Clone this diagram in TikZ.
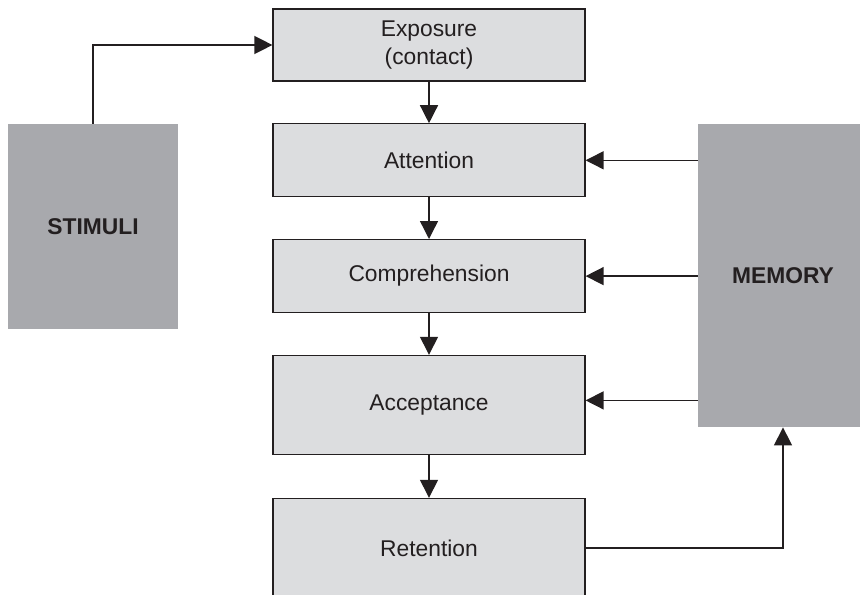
\documentclass[tikz,border=0pt]{standalone}
\usepackage{fontspec}
\setmainfont{Liberation Sans}
\usepackage{xcolor}
\usepackage{tikz}
\usetikzlibrary{positioning,calc,arrows.meta}

\definecolor{stagegray}{HTML}{DCDDDF}
\definecolor{sidegray}{HTML}{A8A9AD}
\definecolor{inkgray}{HTML}{231F20}

\begin{document}
\begin{tikzpicture}[
    x=1pt, y=1pt,
    font=\fontsize{11.4}{14}\selectfont,
    node distance=20.8pt,
    stage/.style={draw=inkgray, line width=0.6pt, fill=stagegray, text=inkgray,
        minimum width=156pt, minimum height=36.5pt, inner sep=0pt, align=center},
    side/.style={fill=sidegray, text=inkgray, font=\fontsize{11.4}{14}\selectfont\bfseries,
        minimum width=85pt, inner sep=0pt},
    flow/.style={draw=inkgray, line width=0.7pt, -{Triangle[length=9pt,width=9pt]}}
]
    \useasboundingbox (0,0) rectangle (430,-297);

    % Side blocks
    \node[side, minimum height=102.5pt] (stimuli) at (46.5,-113.25) {STIMULI};
    \node[side, minimum height=151.5pt] (memory) at (391.5,-137.75) {MEMORY};

    % Stages
    \node[stage, minimum height=36pt] (exposure) at (214.5,-22.5) {Exposure\\(contact)};
    \node[stage, below=of exposure] (attention) {Attention};
    \node[stage, below=of attention] (comprehension) {Comprehension};
    \node[stage, minimum height=49.5pt, below=of comprehension] (acceptance) {Acceptance};
    \node[stage, minimum height=49.5pt, below=21.4pt of acceptance] (retention) {Retention};

    % Flow down the stages
    \draw[flow] (stimuli.north) |- (exposure.west);
    \draw[flow] (exposure) -- (attention);
    \draw[flow] (attention) -- (comprehension);
    \draw[flow] (comprehension) -- (acceptance);
    \draw[flow] (acceptance) -- (retention);

    % Memory links
    \draw[flow] (memory.west |- attention.east) -- (attention.east);
    \draw[flow] (memory.west |- comprehension.east) -- (comprehension.east);
    \draw[flow] ($(memory.west |- acceptance.east)+(0,2.25)$) -- ([yshift=2.25pt]acceptance.east);
    \draw[flow] (retention.east) -| (memory.south);
\end{tikzpicture}
\end{document}
